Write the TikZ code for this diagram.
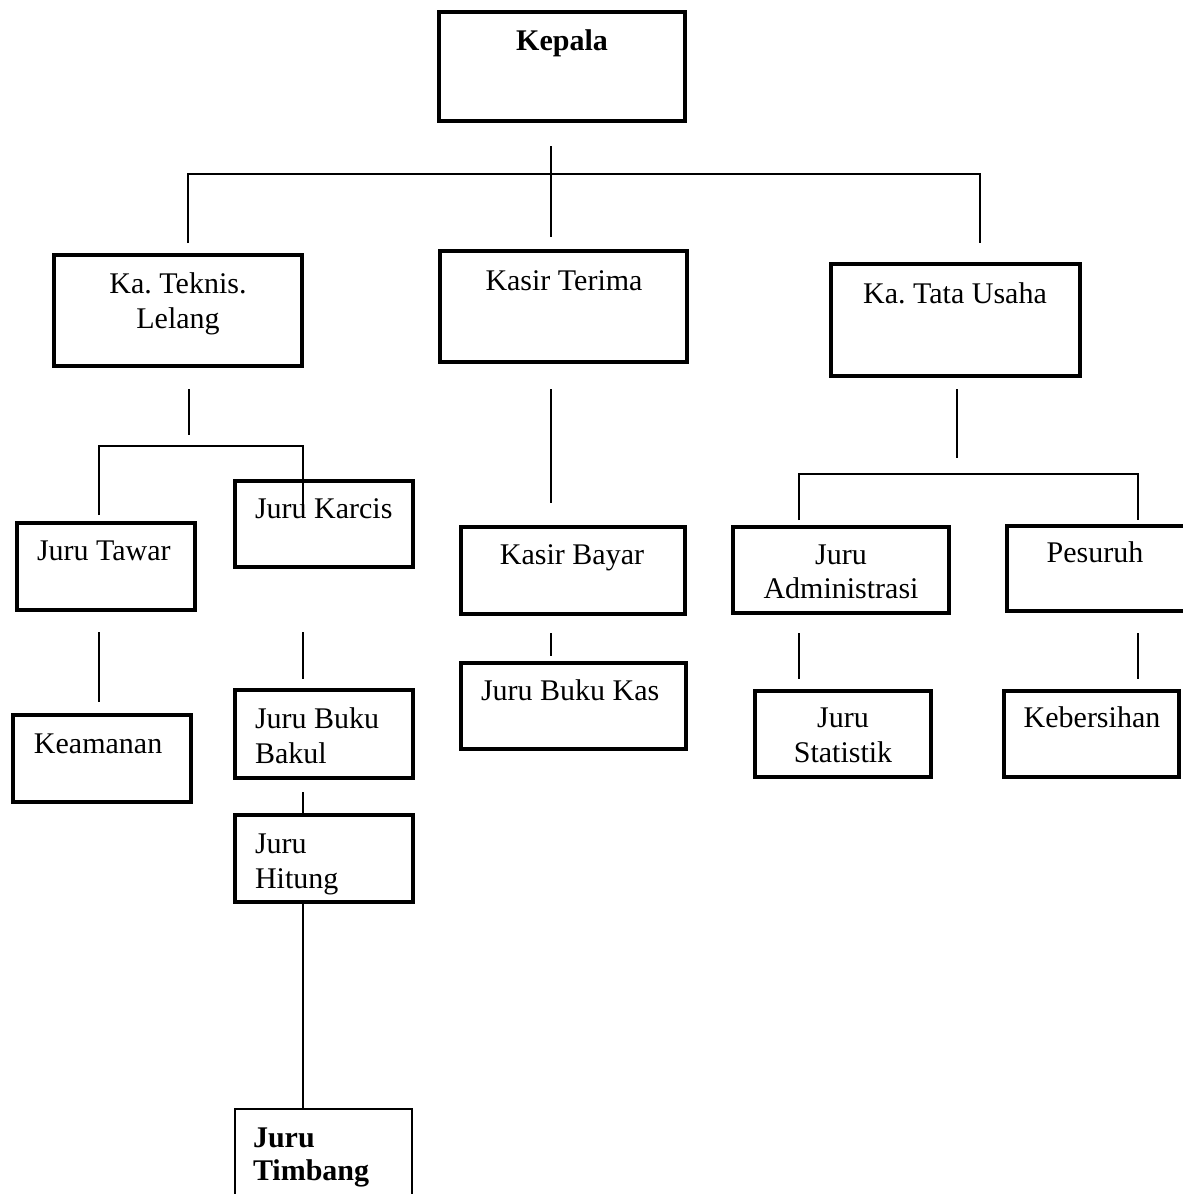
\documentclass[tikz,border=0pt]{standalone}
\usepackage{fontspec}
\setmainfont{Liberation Serif}
\frenchspacing
\begin{document}
\begin{tikzpicture}[x=0.4pt, y=-0.4pt,
  unit/.style={draw, rectangle, line width=1.6pt, inner sep=0pt, outer sep=0pt},
  thinunit/.style={unit, line width=0.8pt},
  conn/.style={line width=0.8pt},
  txt/.style={inner sep=0pt, outer sep=0pt, font=\fontsize{12pt}{13.8pt}\selectfont},
  txtc/.style={txt, anchor=base},
  txtl/.style={txt, anchor=base west}]
\useasboundingbox (0,0) rectangle (1183,1194);

% ---- boxes ----
\node[unit, minimum width=98.4pt, minimum height=43.6pt] (kepala)   at (562,66.5)   {};
\node[unit, minimum width=99.2pt, minimum height=44.4pt] (teknis)   at (178,310.5)  {};
\node[unit, minimum width=98.8pt, minimum height=44.4pt] (terima)   at (563.5,306.5){};
\node[unit, minimum width=99.6pt, minimum height=44.8pt] (tatausaha) at (955.5,320) {};
\node[unit, minimum width=71.2pt, minimum height=34.8pt] (tawar)    at (106,566.5)  {};
\node[unit, minimum width=71.2pt, minimum height=34.4pt] (karcis)   at (324,524)    {};
\node[unit, minimum width=71.2pt, minimum height=34.8pt] (keamanan) at (102,758.5)  {};
\node[unit, minimum width=71.2pt, minimum height=35.2pt] (bakul)    at (324,734)    {};
\node[unit, minimum width=71.2pt, minimum height=34.8pt] (hitung)   at (324,858.5)  {};
\node[thinunit, minimum width=70.8pt, minimum height=52.4pt] (timbang) at (323.5,1174.5) {};
\node[unit, minimum width=89.6pt, minimum height=34.8pt] (bayar)    at (573,570.5)  {};
\node[unit, minimum width=90pt,   minimum height=34.4pt] (bukukas)  at (573.5,706)  {};
\node[unit, minimum width=86.4pt, minimum height=34.4pt] (admin)    at (841,570)    {};
\node[unit, minimum width=93.2pt, minimum height=34pt]   (pesuruh)  at (1123.5,568.5) {};
\node[unit, minimum width=70.4pt, minimum height=34.4pt] (statistik) at (843,734)   {};
\node[unit, minimum width=70pt,   minimum height=34.4pt] (kebersihan) at (1091.5,734) {};

% ---- labels ----
\node[txtc, font=\fontsize{12pt}{13.8pt}\selectfont\bfseries] (kepala-t) at (562,50) {Kepala};
\node[txtc] (teknis-t1) at (178,293) {Ka. Teknis.};
\node[txtc] (teknis-t2) at (178,328) {Lelang};
\node[txtc] (terima-t)  at (564,290) {Kasir Terima};
\node[txtc] (tatausaha-t) at (955,303) {Ka. Tata Usaha};
\node[txtl] (tawar-t)   at (37,560)  {Juru Tawar};
\node[txtl] (karcis-t)  at (255,518) {Juru Karcis};
\node[txtl] (keamanan-t) at (34,753) {Keamanan};
\node[txtl] (bakul-t1)  at (255,728) {Juru Buku};
\node[txtl] (bakul-t2)  at (255,763) {Bakul};
\node[txtl] (hitung-t1) at (255,853) {Juru};
\node[txtl] (hitung-t2) at (255,888) {Hitung};
\node[txtl, font=\fontsize{12pt}{13.8pt}\selectfont\bfseries] (timbang-t1) at (253,1147) {Juru};
\node[txtl, font=\fontsize{12pt}{13.8pt}\selectfont\bfseries] (timbang-t2) at (253,1180) {Timbang};
\node[txtc] (bayar-t)   at (572,564) {Kasir Bayar};
\node[txtl] (bukukas-t) at (481,700) {Juru Buku Kas};
\node[txtc] (admin-t1)  at (841,564) {Juru};
\node[txtc] (admin-t2)  at (841,598) {Administrasi};
\node[txtc] (pesuruh-t) at (1095,562) {Pesuruh};
\node[txtc] (statistik-t1) at (843,727) {Juru};
\node[txtc] (statistik-t2) at (843,762) {Statistik};
\node[txtc] (kebersihan-t) at (1092,727) {Kebersihan};

% ---- connector end points ----
\coordinate (k-top) at (551,146);
\coordinate (k-bot) at (551,237);
\coordinate (bar1-l) at (188,174);
\coordinate (bar1-r) at (980,174);
\coordinate (tek-in) at (188,243);
\coordinate (tu-in)  at (980,243);

\coordinate (tek-out1) at (189,389);
\coordinate (tek-out2) at (189,435);
\coordinate (bar2-l) at (99,446);
\coordinate (bar2-r) at (303,446);
\coordinate (tawar-in) at (99,515);
\coordinate (karcis-in) at (303,510);
\coordinate (tawar-out1) at (99,632);
\coordinate (tawar-out2) at (99,702);
\coordinate (karcis-out1) at (303,632);
\coordinate (karcis-out2) at (303,679);
\coordinate (bakul-out1) at (303,792);
\coordinate (hitung-out) at (303,904);

\coordinate (ter-out1) at (551,389);
\coordinate (ter-out2) at (551,503);
\coordinate (bayar-out1) at (551,633);
\coordinate (bayar-out2) at (551,656);

\coordinate (tu-out1) at (957,389);
\coordinate (tu-out2) at (957,458);
\coordinate (bar3-l) at (799,474);
\coordinate (bar3-r) at (1138,474);
\coordinate (admin-in) at (799,520);
\coordinate (pes-in) at (1138,520);
\coordinate (admin-out1) at (799,633);
\coordinate (admin-out2) at (799,679);
\coordinate (pes-out1) at (1138,633);
\coordinate (pes-out2) at (1138,679);

% ---- connectors ----
\draw[conn] (k-top) -- (k-bot);
\draw[conn] (tek-in) -- (bar1-l) -- (bar1-r) -- (tu-in);

\draw[conn] (tek-out1) -- (tek-out2);
\draw[conn] (tawar-in) -- (bar2-l) -- (bar2-r) -- (karcis-in);
\draw[conn] (tawar-out1) -- (tawar-out2);
\draw[conn] (karcis-out1) -- (karcis-out2);
\draw[conn] (bakul-out1) -- (bakul-out1 |- hitung.north);
\draw[conn] (hitung-out) -- (hitung-out |- timbang.north);

\draw[conn] (ter-out1) -- (ter-out2);
\draw[conn] (bayar-out1) -- (bayar-out2);

\draw[conn] (tu-out1) -- (tu-out2);
\draw[conn] (admin-in) -- (bar3-l) -- (bar3-r) -- (pes-in);
\draw[conn] (admin-out1) -- (admin-out2);
\draw[conn] (pes-out1) -- (pes-out2);
\end{tikzpicture}
\end{document}
